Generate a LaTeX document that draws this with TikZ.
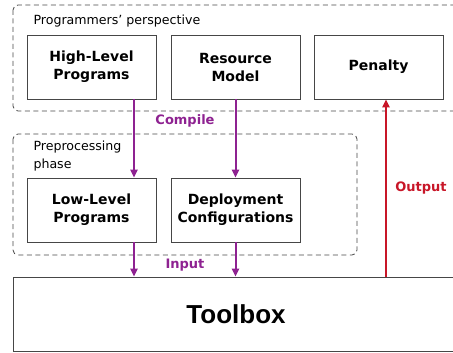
\documentclass[tikz,border=0pt]{standalone}
\usepackage{fontspec}
\setmainfont{DejaVu Sans}
\newfontfamily\toolfont{Liberation Sans}
\usepackage{xcolor}
\usepackage{tikz}
\usetikzlibrary{positioning}
\usetikzlibrary{shapes,arrows.meta}
\definecolor{compilecol}{RGB}{142,34,145}
\definecolor{outputcol}{RGB}{200,22,40}
\definecolor{framecol}{RGB}{70,70,70}
\tikzstyle{groupbox} = [draw=framecol, thick, dash pattern=on 5pt off 3.5pt, rounded corners=5pt]
\tikzstyle{stepbox} = [draw=framecol, thick, fill=white, minimum width=129pt, minimum height=64pt, align=center, font=\fontsize{14}{18}\selectfont\bfseries, inner sep=0pt]
\tikzstyle{purplearrow} = [draw=compilecol, line width=2pt, -{Triangle[length=8pt,width=7pt]}]
\tikzstyle{redarrow} = [draw=outputcol, line width=2pt, -{Triangle[length=8pt,width=7pt]}]

\begin{document}
\begin{tikzpicture}[x=1pt, y=-1pt]
\useasboundingbox (0, 0) rectangle (453, 353);
\clip (0, 0) rectangle (453, 353);

%% Programmers' perspective
\draw[groupbox] (13, 5) rectangle (470, 111);
\node[anchor=west, font=\fontsize{12.6}{15}\selectfont] (pplabel) at (30, 21) {Programmers' perspective};
\node[stepbox] (hl) at (91.5, 67) {High-Level\\Programs};
\node[stepbox] (rm) at (235.5, 67) {Resource\\Model};
\node[stepbox] (pen) at (378.5, 67) {Penalty};

%% Preprocessing phase
\draw[groupbox] (13, 134) rectangle (357, 255);
\node[anchor=west, align=left, font=\fontsize{12.6}{18}\selectfont] (pplabel2) at (30, 156) {Preprocessing\\phase};
\node[stepbox] (ll) at (91.5, 210) {Low-Level\\Programs};
\node[stepbox] (dc) at (235.5, 210) {Deployment\\Configurations};

%% Toolbox
\node[draw=framecol, thick, fill=white, minimum width=446pt, minimum height=74pt, font=\toolfont\fontsize{26}{30}\selectfont\bfseries] (tb) at (236, 314) {Toolbox};

%% arrows
\draw[purplearrow] ([xshift=42.5pt]hl.south) -- ([xshift=42.5pt]ll.north);
\draw[purplearrow] (rm.south) -- (dc.north);
\draw[purplearrow] ([xshift=42.5pt]ll.south) -- ([xshift=42.5pt]ll.south |- tb.north);
\draw[purplearrow] (dc.south) -- (dc.south |- tb.north);
\draw[redarrow] ([xshift=7.5pt]pen.south |- tb.north) -- ([xshift=7.5pt]pen.south);

\node[compilecol, font=\fontsize{13}{15}\selectfont\bfseries] (compile) at (185, 121) {Compile};
\node[compilecol, font=\fontsize{13}{15}\selectfont\bfseries] (input) at (185, 265) {Input};
\node[outputcol, font=\fontsize{13}{15}\selectfont\bfseries] (output) at (421, 188) {Output};
\end{tikzpicture}
\end{document}
